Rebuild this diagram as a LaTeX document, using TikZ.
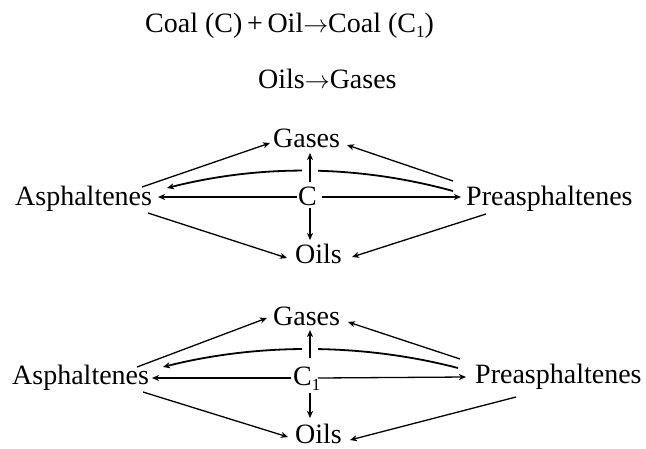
\documentclass[tikz,border=0pt]{standalone}
\usepackage{fontspec}
\setmainfont{Liberation Serif}
\usetikzlibrary{arrows.meta,calc}
\newcommand{\lowsub}[1]{\raisebox{-5pt}{\fontsize{17}{17}\selectfont #1}}
\begin{document}
\begin{tikzpicture}[x=1pt,y=-1pt,
  lbl/.style={anchor=base west,inner sep=0pt,font=\fontsize{28}{34}\selectfont},
  arr/.style={-{Stealth[length=7pt,width=6pt,inset=2pt]},line width=1.3pt},
  curv/.style={-{Stealth[length=7pt,width=6pt,inset=2pt]},line width=1.8pt},
  vert/.style={arr,preaction={draw=white,line width=16pt,-}}]
\useasboundingbox (0,0) rectangle (646,448);

% equations
\node[lbl] (t1) at (145,32) {Coal (C)\,+\,Oil$\rightarrow$Coal (C\lowsub{1})};
\node[lbl] (t2) at (258,88) {Oils$\rightarrow$Gases};

% diagram 1
\node[lbl] (aA) at (15,205) {Asphaltenes};
\node[lbl] (gA) at (273,147) {Gases};
\node[lbl] (cA) at (298,205) {C};
\node[lbl] (pA) at (466,205) {Preasphaltenes};
\node[lbl] (oA) at (295,263) {Oils};

\draw[curv] ($(pA.base west)+(-13,-14)$) .. controls ($(pA.base west)+(-108,-40)$) and ($(aA.base west)+(247,-41)$) .. ($(aA.base west)+(152,-17)$);
\draw[arr] ($(aA.base west)+(127,-18)$) -- ($(gA.base west)+(-3,-4)$);
\draw[arr] ($(pA.base west)+(-13,-24)$) -- ($(gA.base west)+(74,-2)$);
\draw[vert] ($(cA.base west)+(12,-23)$) -- ($(gA.base west)+(37,6)$);
\draw[arr] ($(cA.base west)+(-1,-8)$) -- ($(aA.base west)+(143,-8)$);
\draw[arr] ($(cA.base west)+(24,-8)$) -- ($(pA.base west)+(-5,-8)$);
\draw[arr] ($(cA.base west)+(12,3)$) -- ($(oA.base west)+(15,-23)$);
\draw[arr] ($(aA.base west)+(133,8)$) -- ($(oA.base west)+(-8,-5)$);
\draw[arr] ($(pA.base west)+(20,9)$) -- ($(oA.base west)+(57,-6)$);

% diagram 2
\node[lbl] (aB) at (12,384) {Asphaltenes};
\node[lbl] (gB) at (273,325) {Gases};
\node[lbl] (cB) at (293,385) {C\lowsub{1}};
\node[lbl] (pB) at (475,383) {Preasphaltenes};
\node[lbl] (oB) at (295,443) {Oils};

\draw[curv] ($(pB.base west)+(-17,-15)$) .. controls ($(pB.base west)+(-113,-40)$) and ($(aB.base west)+(246,-41)$) .. ($(aB.base west)+(151,-17)$);
\draw[arr] ($(aB.base west)+(125,-17)$) -- ($(gB.base west)+(-6,-7)$);
\draw[arr] ($(pB.base west)+(-15,-24)$) -- ($(gB.base west)+(75,-3)$);
\draw[vert] ($(cB.base west)+(17,-27)$) -- ($(gB.base west)+(37,5)$);
\draw[arr] ($(cB.base west)+(-2,-7)$) -- ($(aB.base west)+(140,-6)$);
\draw[arr] ($(cB.base west)+(25,-7)$) -- ($(pB.base west)+(-9,-6)$);
\draw[arr] ($(cB.base west)+(17,8)$) -- ($(oB.base west)+(15,-25)$);
\draw[arr] ($(aB.base west)+(131,8)$) -- ($(oB.base west)+(-7,-6)$);
\draw[arr] ($(pB.base west)+(41,14)$) -- ($(oB.base west)+(55,-3)$);
\end{tikzpicture}
\end{document}
